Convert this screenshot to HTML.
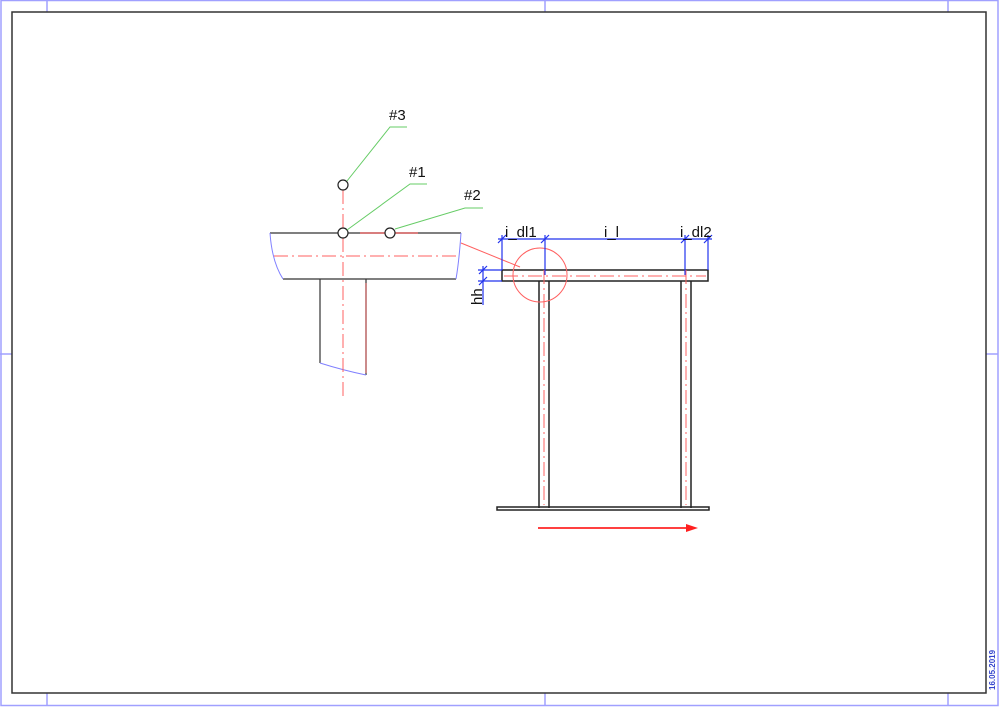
<!DOCTYPE html>
<html><head><style>html,body{margin:0;padding:0;background:#fff}svg{display:block}</style></head><body>
<svg width="1000" height="709" viewBox="0 0 1000 709" xmlns="http://www.w3.org/2000/svg" font-family="Liberation Sans, sans-serif">
<rect x="1" y="0.5" width="997" height="705" fill="none" stroke="#a0a0ff" stroke-width="1.5"/>
<g stroke="#a0a0ff" stroke-width="1.5">
<line x1="47" y1="0" x2="47" y2="12"/><line x1="545" y1="0" x2="545" y2="12"/><line x1="948" y1="0" x2="948" y2="12"/>
<line x1="47" y1="693" x2="47" y2="706"/><line x1="545" y1="693" x2="545" y2="706"/><line x1="948" y1="693" x2="948" y2="706"/>
<line x1="0" y1="354" x2="12" y2="354"/><line x1="986" y1="354" x2="998" y2="354"/>
</g>
<rect x="12" y="12" width="974" height="681" fill="none" stroke="#333" stroke-width="1.5"/>
<text transform="translate(995,690) rotate(-90)" font-size="8" font-weight="bold" fill="#3344cc">16.05.2019</text>

<g stroke="#333" stroke-width="1.2" fill="none">
<line x1="270" y1="233" x2="461" y2="233"/>
<line x1="283" y1="279" x2="456" y2="279"/>
<line x1="320" y1="279" x2="320" y2="363"/>
<line x1="366" y1="279" x2="366" y2="375"/>
</g>
<g stroke="#8080ff" stroke-width="1" fill="none">
<path d="M270 233 Q272 262 283 279"/>
<path d="M461 233 Q459 262 456 279"/>
<path d="M320 363 Q342 370 366 375"/>
</g>
<g stroke="#ff6060" stroke-width="1" fill="none" stroke-dasharray="14,4,2,4">
<line x1="274" y1="256" x2="458" y2="256"/>
<line x1="343" y1="190" x2="343" y2="398"/>
</g>
<line x1="366" y1="283" x2="366" y2="373" stroke="#c04040" stroke-width="1"/>
<line x1="360" y1="233" x2="418" y2="233" stroke="#e05050" stroke-width="1.2"/>
<g stroke="#222" stroke-width="1.2" fill="#fff">
<circle cx="343" cy="185" r="5"/><circle cx="343" cy="233" r="5"/><circle cx="390" cy="233" r="5"/>
</g>
<g stroke="#66cc66" stroke-width="1" fill="none">
<polyline points="347,181 390,127 407,127"/>
<polyline points="347,230 410,184 427,184"/>
<polyline points="395,229 465,208 483,208"/>
</g>
<g font-size="15" fill="#111">
<text x="389" y="120">#3</text><text x="409" y="177">#1</text><text x="464" y="200">#2</text>
</g>
<line x1="461" y1="243" x2="520" y2="267" stroke="#ff6060" stroke-width="1"/>

<g stroke="#222" stroke-width="1.5" fill="none">
<rect x="502" y="270" width="206" height="11"/>
<line x1="539" y1="281" x2="539" y2="508"/><line x1="549" y1="281" x2="549" y2="508"/>
<line x1="681" y1="281" x2="681" y2="508"/><line x1="691" y1="281" x2="691" y2="508"/>
<rect x="497" y="507" width="212" height="3"/>
</g>
<g stroke="#ff6060" stroke-width="1" fill="none" stroke-dasharray="14,4,2,4">
<line x1="504" y1="276" x2="706" y2="276"/>
<line x1="544" y1="270" x2="544" y2="505"/>
<line x1="686" y1="270" x2="686" y2="505"/>
</g>
<circle cx="540" cy="275" r="27" fill="none" stroke="#ff6060" stroke-width="1"/>
<line x1="538" y1="528" x2="688" y2="528" stroke="#ff4040" stroke-width="2"/>
<polygon points="686,524 698,528 686,532" fill="#ff2020"/>
<g stroke="#2233ee" stroke-width="1.2" fill="none">
<line x1="498" y1="239" x2="712" y2="239"/>
<line x1="502" y1="235" x2="502" y2="270"/>
<line x1="545" y1="235" x2="545" y2="275"/>
<line x1="685" y1="235" x2="685" y2="275"/>
<line x1="708" y1="235" x2="708" y2="270"/>
<line x1="498" y1="243" x2="506" y2="235"/><line x1="541" y1="243" x2="549" y2="235"/>
<line x1="681" y1="243" x2="689" y2="235"/><line x1="704" y1="243" x2="712" y2="235"/>
<line x1="478" y1="270" x2="502" y2="270"/><line x1="478" y1="281" x2="502" y2="281"/>
<line x1="483" y1="266" x2="483" y2="305"/>
<line x1="479" y1="274" x2="487" y2="266"/><line x1="479" y1="285" x2="487" y2="277"/>
</g>
<g font-size="15" fill="#111">
<text x="505" y="237">i_dl1</text><text x="604" y="237">i_l</text><text x="680" y="237">i_dl2</text>
<text transform="translate(482,305) rotate(-90)">hh</text>
</g>
</svg>
</body></html>
